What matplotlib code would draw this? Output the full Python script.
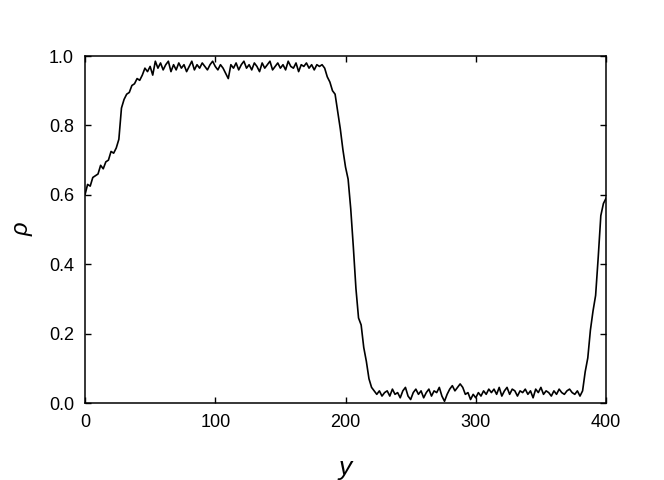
import numpy as np
import matplotlib
matplotlib.use('Agg')
import matplotlib.pyplot as plt

plt.rcParams['font.family'] = ['Liberation Sans', 'DejaVu Sans']

# density profile at a step of 2
y_pos = np.arange(0, 401, 2)
rho = [
    0.60, 0.63, 0.625, 0.65, 0.655, 0.66, 0.685, 0.675, 0.695, 0.70,
    0.725, 0.72, 0.735, 0.76, 0.85, 0.875, 0.89, 0.895, 0.915, 0.92,
    0.935, 0.93, 0.945, 0.965, 0.955, 0.97, 0.945, 0.985, 0.965, 0.98,
    0.96, 0.975, 0.985, 0.955, 0.975, 0.96, 0.98, 0.965, 0.975, 0.955,
    0.97, 0.985, 0.96, 0.975, 0.965, 0.98, 0.97, 0.96, 0.975, 0.985,
    0.97, 0.96, 0.975, 0.965, 0.95, 0.935, 0.975, 0.965, 0.98, 0.96,
    0.975, 0.985, 0.965, 0.975, 0.96, 0.98, 0.97, 0.955, 0.98, 0.965,
    0.975, 0.985, 0.96, 0.97, 0.98, 0.965, 0.975, 0.96, 0.985, 0.97,
    0.965, 0.98, 0.955, 0.975, 0.97, 0.98, 0.965, 0.975, 0.96, 0.975,
    0.97, 0.975, 0.965, 0.94, 0.925, 0.90, 0.89, 0.84, 0.79, 0.73,
    0.68, 0.645, 0.56, 0.45, 0.33, 0.245, 0.225, 0.16, 0.12, 0.07,
    0.045, 0.035, 0.025, 0.035, 0.02, 0.03, 0.035, 0.02, 0.04, 0.025,
    0.03, 0.015, 0.035, 0.045, 0.02, 0.01, 0.03, 0.04, 0.025, 0.035,
    0.015, 0.03, 0.04, 0.02, 0.035, 0.03, 0.045, 0.02, 0.005, 0.025,
    0.04, 0.05, 0.035, 0.045, 0.055, 0.045, 0.025, 0.03, 0.01, 0.025,
    0.015, 0.03, 0.02, 0.035, 0.025, 0.04, 0.03, 0.04, 0.025, 0.045,
    0.02, 0.035, 0.045, 0.025, 0.04, 0.035, 0.02, 0.035, 0.03, 0.04,
    0.025, 0.035, 0.015, 0.04, 0.03, 0.045, 0.025, 0.035, 0.03, 0.02,
    0.035, 0.025, 0.04, 0.03, 0.025, 0.035, 0.04, 0.03, 0.025, 0.035,
    0.02, 0.035, 0.09, 0.13, 0.21, 0.265, 0.31, 0.42, 0.54, 0.575,
    0.59,
]

fig = plt.figure(figsize=(6.64, 4.8), dpi=100)
ax = fig.add_axes([0.128, 0.1604, 0.7847, 0.7229])

ax.plot(y_pos, rho, color='black', linewidth=1.2)

ax.set_xlim(0, 400)
ax.set_ylim(0, 1.0)
ax.set_xticks([0, 100, 200, 300, 400])
ax.set_yticks([0.0, 0.2, 0.4, 0.6, 0.8, 1.0])
ax.set_yticklabels(['0.0', '0.2', '0.4', '0.6', '0.8', '1.0'])
ax.tick_params(direction='in', top=True, right=True, length=4, width=1.0,
               labelsize=13, pad=8)
for s in ax.spines.values():
    s.set_linewidth(1.1)

ax.set_xlabel('y', fontsize=19, style='italic', labelpad=18)
ax.set_ylabel('ρ', fontsize=17, style='italic', labelpad=11)

plt.savefig('out.png', dpi=100)
plt.close()
